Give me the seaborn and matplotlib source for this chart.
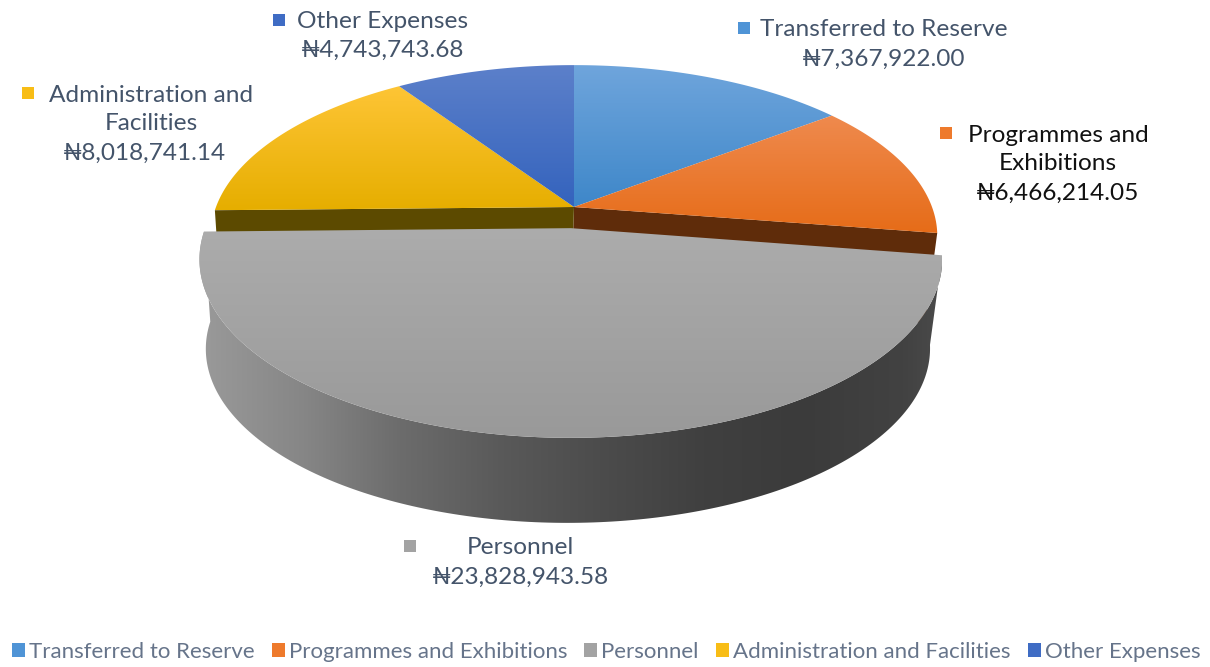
from matplotlib import pyplot as plt
from matplotlib.colors import LinearSegmentedColormap
from matplotlib.patches import Patch, Polygon
import numpy as np
import seaborn as sns

sns.set_theme(style='white')
plt.rcParams['font.family'] = ['Lato', 'DejaVu Sans']

categories = ['Transferred to Reserve', 'Programmes and Exhibitions', 'Personnel', 'Administration and Facilities', 'Other Expenses']
values = [7367922.00, 6466214.05, 23828943.58, 8018741.14, 4743743.68]
legend_colors = sns.color_palette(['#4f94d6', '#ee7a2c', '#a3a3a3', '#f8bd16', '#3f6cc4'])
top_shades = [('#6fa5dc', '#3e87c9'), ('#ef8a4e', '#e66c18'), ('#acacac', '#999999'), ('#fec536', '#e6ae00'), ('#5c80ca', '#3463bd')]
face_shades = ['#5f2c0a', '#5c4a00']

# perspective disc, in pixels of the picture
cx, cy = 574, 207
rx, ry = 358, 166
tilt = 0.17
base_scale, base_drop, base_shift = 0.975, 90.8, -3
explode = 0.125


def project(theta, radius, shift=0.0, bisect=0.0, lower=False):
    u = radius * np.sin(np.radians(theta)) + shift * np.sin(np.radians(bisect))
    v = radius * np.cos(np.radians(theta)) + shift * np.cos(np.radians(bisect))
    w = 1 + tilt * v
    scale = base_scale if lower else 1.0
    drop = base_drop if lower else 0.0
    slide = base_shift if lower else 0.0
    return np.column_stack([cx + slide + rx * scale * u / w, cy + drop - ry * scale * v / w])


def shaded_fill(ax, points, cmap, zorder, horizontal=False):
    patch = Polygon(points, closed=True, facecolor='none', edgecolor='none', zorder=zorder)
    ax.add_patch(patch)
    x0, x1 = points[:, 0].min(), points[:, 0].max()
    y0, y1 = points[:, 1].min(), points[:, 1].max()
    ramp = np.linspace(0, 1, 256)
    ramp = ramp.reshape(1, -1) if horizontal else ramp.reshape(-1, 1)
    im = ax.imshow(ramp, cmap=cmap, extent=(x0, x1, y1, y0), aspect='auto', zorder=zorder, interpolation='bilinear')
    im.set_clip_path(patch)


fig = plt.figure(figsize=(12.10, 6.67), dpi=100)
ax = fig.add_axes([0, 0, 1, 1])

share = np.array(values) / sum(values) * 360
ends = np.cumsum(share)
starts = ends - share

for i in range(len(values)):
    exploded = categories[i] == 'Personnel'
    bisect = (starts[i] + ends[i]) / 2
    shift = explode if exploded else 0.0
    arc = np.linspace(starts[i], ends[i], 200)
    rim = project(arc, 1.0, shift, bisect)
    apex = project(np.array([0.0]), 0.0, shift, bisect)
    cmap = LinearSegmentedColormap.from_list('top', top_shades[i])
    shaded_fill(ax, np.vstack([apex, rim]), cmap, 4 if exploded else 2)
    if exploded:
        low = project(arc, 1.0, shift, bisect, lower=True)
        wall = np.vstack([rim, low[::-1]])
        stops = [(0.0, '#9a9a9a'), (0.14, '#868686'), (0.27, '#6c6c6c'), (0.41, '#595959'), (0.54, '#4c4c4c'), (0.68, '#404040'), (0.81, '#3b3b3b'), (0.95, '#424242'), (1.0, '#4a4a4a')]
        shaded_fill(ax, wall, LinearSegmentedColormap.from_list('wall', stops), 3, horizontal=True)

# cut faces beside the exploded slice
for edge, color in zip([ends[1], starts[3]], face_shades):
    t = np.array([edge])
    top_edge = np.vstack([project(t, 0.0), project(t, 1.0)])
    low_edge = np.vstack([project(t, 0.0, lower=True), project(t, 1.0, lower=True)])
    ax.add_patch(Polygon(np.vstack([top_edge, low_edge[::-1]]), closed=True, facecolor=color, edgecolor='none', zorder=1))

label_color = '#44546a'
label_lines = [['Transferred to Reserve'], ['Programmes and', 'Exhibitions'], ['Personnel'], ['Administration and', 'Facilities'], ['Other Expenses']]
label_x = [884, 1058, 520, 151, 383]
label_y = [30, 135, 548, 95, 21]
value_x = [884, 1058, 520, 144, 383]
marker_x = [744, 946, 410, 28, 279]
marker_y = [28, 133, 546, 93, 20]
text_colors = [label_color, '#111111', label_color, label_color, label_color]
line_step = 29

for i in range(len(values)):
    ax.scatter(marker_x[i], marker_y[i], marker='s', s=85, color=legend_colors[i], linewidths=0, zorder=5)
    for j, line in enumerate(label_lines[i]):
        ax.text(label_x[i], label_y[i] + j * line_step, line, ha='center', va='center', fontsize=17.6, color=text_colors[i], zorder=5)
    ax.text(value_x[i], label_y[i] + len(label_lines[i]) * line_step, f'₦{values[i]:,.2f}', ha='center', va='center', fontsize=17.6, color=text_colors[i], zorder=5)

ax.set_xlim(0, 1210)
ax.set_ylim(667, 0)
ax.axis('off')

handles = [Patch(facecolor=c, edgecolor='none', label=n) for c, n in zip(legend_colors, categories)]
ax.legend(handles=handles, ncols=5, loc='center', bbox_to_anchor=(606, 652), bbox_transform=ax.transData, frameon=False,
          prop={'size': 16}, labelcolor='#66748a', handlelength=0.59, handleheight=0.59, handletextpad=0.18, columnspacing=0.77, borderpad=0, borderaxespad=0)

fig.savefig('out.png', dpi=100)
